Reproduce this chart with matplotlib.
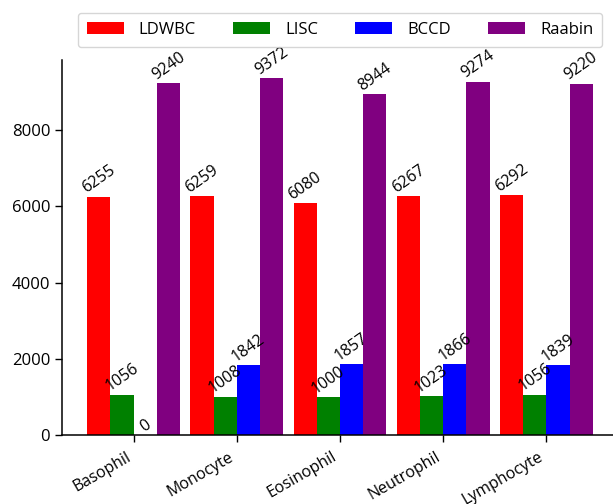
import matplotlib
matplotlib.use('Agg')
import matplotlib.pyplot as plt
import numpy as np

plt.rcParams['font.family'] = ['Open Sans', 'DejaVu Sans']

# data
cell_types = ['Basophil', 'Monocyte', 'Eosinophil', 'Neutrophil', 'Lymphocyte']
ldwbc = [6255, 6259, 6080, 6267, 6292]
lisc = [1056, 1008, 1000, 1023, 1056]
bccd = [0, 1842, 1857, 1866, 1839]
raabin = [9240, 9372, 8944, 9274, 9220]

series = [('LDWBC', ldwbc, 'red'), ('LISC', lisc, 'green'),
          ('BCCD', bccd, 'blue'), ('Raabin', raabin, 'purple')]

fig = plt.figure(figsize=(6.13, 5.04), dpi=100)
ax = fig.add_axes([62 / 613, 69 / 504, 556 / 613, 375 / 504])

x = np.arange(len(cell_types))
w = 0.225
for i, (name, vals, col) in enumerate(series):
    pos = x + (i - 1.5) * w
    ax.bar(pos, vals, w, color=col, label=name, linewidth=0)
    for px, v in zip(pos, vals):
        ax.text(px, v, str(v), rotation=35, ha='center', va='bottom', fontsize=11.5)

ax.set_xticks(x)
ax.set_xticklabels(cell_types, rotation=30, ha='right', fontsize=11.5)
ax.tick_params(axis='x', length=5, width=1, pad=5)
ax.tick_params(axis='y', labelsize=12, length=5, width=1)
ax.set_yticks([0, 2000, 4000, 6000, 8000])
ax.set_xlim(-0.695, 4.695)
ax.spines['top'].set_visible(False)
ax.spines['right'].set_visible(False)
for s in ['left', 'bottom']:
    ax.spines[s].set_linewidth(1.1)

ax.legend(loc='lower center', bbox_to_anchor=(0.5, 1.035), ncol=4,
          fontsize=12, handlelength=2.2, handletextpad=0.9, borderpad=0.55,
          columnspacing=2.25, borderaxespad=0)

fig.savefig('out.png', dpi=100)
